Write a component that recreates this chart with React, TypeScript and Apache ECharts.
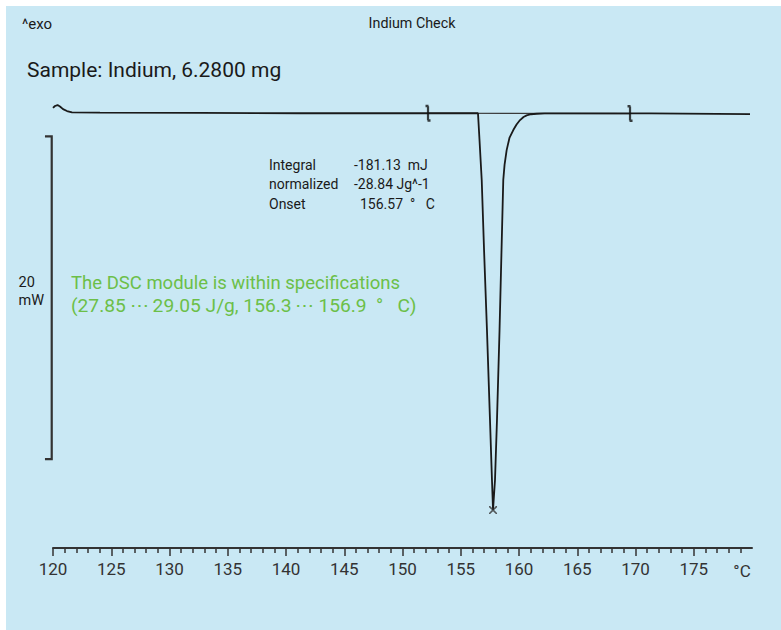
import React, { useEffect, useRef } from "react";
import * as echarts from "echarts";

// Temperature (°C) and heat flow (mW)
const curveT = [120, 120.17, 120.39, 120.6, 120.86, 121.2, 121.63, 124.03, 132.6, 141.2, 149.8, 156.48,
  156.61, 156.8, 157.0, 157.25, 157.51, 157.68, 157.77,
  157.94, 158.11, 158.33, 158.5, 158.65, 158.76, 158.94, 159.18, 159.51, 159.79, 160.09, 160.39, 160.66, 161.03, 161.52,
  162.2, 171.2, 179.83];
const curveMW = [0.26, 0.38, 0.44, 0.35, 0.19, 0.07, -0.01, -0.03, -0.05, -0.07, -0.07, -0.07,
  -1.73, -4.2, -8.54, -13.5, -19.07, -22.79, -24.65,
  -22.79, -19.07, -13.5, -8.54, -4.2, -3.27, -2.35, -1.6, -1.11, -0.77, -0.49, -0.3, -0.2, -0.13, -0.1,
  -0.08, -0.08, -0.12];

const limitT = [152.19, 169.53];
const limitMW = [-0.07, -0.09];
const peakT = 157.77;
const peakMW = -24.65;

const scaleBarT = [119.31, 119.89, 119.89, 119.31];
const scaleBarMW = [-1.5, -1.5, -21.5, -21.5];

const xMin = 120;
const xMax = 180;
const xInterval = 5;
const majorTicks = [120, 125, 130, 135, 140, 145, 150, 155, 160, 165, 170, 175];

const resultLabels = ["Integral", "normalized", "Onset"];
const resultValues = ["-181.13  mJ", "-28.84 Jg^-1", "156.57  °   C"];

const FONT = "Roboto, 'Noto Sans', sans-serif";

export default function App() {
  const ref = useRef<HTMLDivElement>(null);
  useEffect(() => {
    if (!ref.current) return;
    const chart = echarts.init(ref.current, undefined, { renderer: "svg" });
    const curve = curveT.map((t, i) => [t, curveMW[i]]);
    const scaleBar = scaleBarT.map((t, i) => [t, scaleBarMW[i]]);
    const limits = limitT.map((t, i) => [t, limitMW[i]]);

    const textEls: any[] = [
      { type: "text", x: 16, y: 18, style: { text: "^exo", fill: "#1a1a1a", fontSize: 15, fontFamily: FONT, verticalAlign: "middle" } },
      { type: "text", x: 406, y: 17, style: { text: "Indium Check", fill: "#1a1a1a", fontSize: 14.3, fontFamily: FONT, align: "center", verticalAlign: "middle" } },
      { type: "text", x: 21, y: 64, style: { text: "Sample: Indium, 6.2800 mg", fill: "#1a1a1a", fontSize: 21, fontFamily: FONT, verticalAlign: "middle" } },
      { type: "text", x: 12.5, y: 276.5, style: { text: "20", fill: "#1a1a1a", fontSize: 14.5, fontFamily: FONT, verticalAlign: "middle" } },
      { type: "text", x: 12.5, y: 294, style: { text: "mW", fill: "#1a1a1a", fontSize: 14.5, fontFamily: FONT, verticalAlign: "middle" } },
      { type: "text", x: 65, y: 277, style: { text: "The DSC module is within specifications", fill: "#6cbf48", fontSize: 18.5, fontFamily: FONT, verticalAlign: "middle" } },
      { type: "text", x: 65, y: 299, style: { text: "(27.85\u2009\u22ef\u200929.05 J/g, 156.3\u2009\u22ef\u2009156.9  °   C)", fill: "#6cbf48", fontSize: 19.2, fontFamily: FONT, verticalAlign: "middle" } },
      { type: "text", x: 736, y: 565, style: { text: "°C", fill: "#333", fontSize: 17, fontFamily: FONT, align: "center", verticalAlign: "middle" } },
    ];
    resultLabels.forEach((l, i) => {
      textEls.push({ type: "text", x: 263, y: 159 + i * 19.3, style: { text: l, fill: "#1a1a1a", fontSize: 14, fontFamily: FONT, verticalAlign: "middle" } });
      textEls.push({ type: "text", x: i === 2 ? 354 : 348, y: 159 + i * 19.3, style: { text: resultValues[i], fill: "#1a1a1a", fontSize: 14, fontFamily: FONT, verticalAlign: "middle" } });
    });

    chart.setOption({
      animation: false,
      backgroundColor: "#c9e8f4",
      grid: { left: 47, right: 29, top: 90, bottom: 82 },
      xAxis: {
        type: "value",
        min: xMin,
        max: xMax,
        interval: xInterval,
        axisLine: { onZero: false, lineStyle: { color: "#333", width: 2 } },
        axisTick: { show: true, length: 8, customValues: majorTicks, lineStyle: { color: "#333", width: 1.5 } },
        minorTick: { show: true, splitNumber: 5, length: 5, lineStyle: { color: "#333", width: 1.5 } },
        splitLine: { show: false },
        axisLabel: {
          fontSize: 17,
          color: "#333",
          fontFamily: FONT,
          margin: 12,
          formatter: (v: number) => (v >= xMax ? "" : String(v)),
        },
      },
      yAxis: {
        type: "value",
        min: -27,
        max: 1,
        show: false,
        splitLine: { show: false },
      },
      series: [
        {
          type: "line",
          data: curve,
          symbol: "none",
          clip: false,
          lineStyle: { color: "#1a1a1a", width: 1.8 },
          z: 3,
        },
        {
          type: "line",
          data: limits,
          symbol: "none",
          clip: false,
          lineStyle: { color: "#3a3a3a", width: 1.2 },
          z: 2,
        },
        {
          type: "custom",
          data: [[scaleBarT[1], scaleBarMW[1]]],
          clip: false,
          renderItem: (_params: any, api: any) => {
            const pts = scaleBar.map((p) => api.coord(p));
            return {
              type: "polyline",
              shape: { points: pts },
              style: { stroke: "#333", lineWidth: 2.2, fill: null },
            };
          },
          z: 2,
        },
        {
          type: "scatter",
          data: limits,
          symbol: "path://M0,0 L3,0 L3,1.5 L3.6,1.5 L3.6,14.5 L5,14.5 L5,17 L2,17 L2,15.5 L1.4,15.5 L1.4,2.5 L0,2.5 Z",
          symbolSize: [5, 17],
          itemStyle: { color: "#111" },
          z: 4,
        },
        {
          type: "scatter",
          data: [[peakT, peakMW]],
          symbol: "path://M0,0 L1.4,0 L5,3.6 L8.6,0 L10,0 L10,1.4 L6.4,5 L10,8.6 L10,10 L8.6,10 L5,6.4 L1.4,10 L0,10 L0,8.6 L3.6,5 L0,1.4 Z",
          symbolSize: 8,
          itemStyle: { color: "#333" },
          z: 4,
        },
      ],
      graphic: textEls,
    });
    return () => chart.dispose();
  }, []);
  return (
    <div
      ref={ref}
      style={{ position: "absolute", left: 6, top: 6, width: 775, height: 624 }}
    />
  );
}
